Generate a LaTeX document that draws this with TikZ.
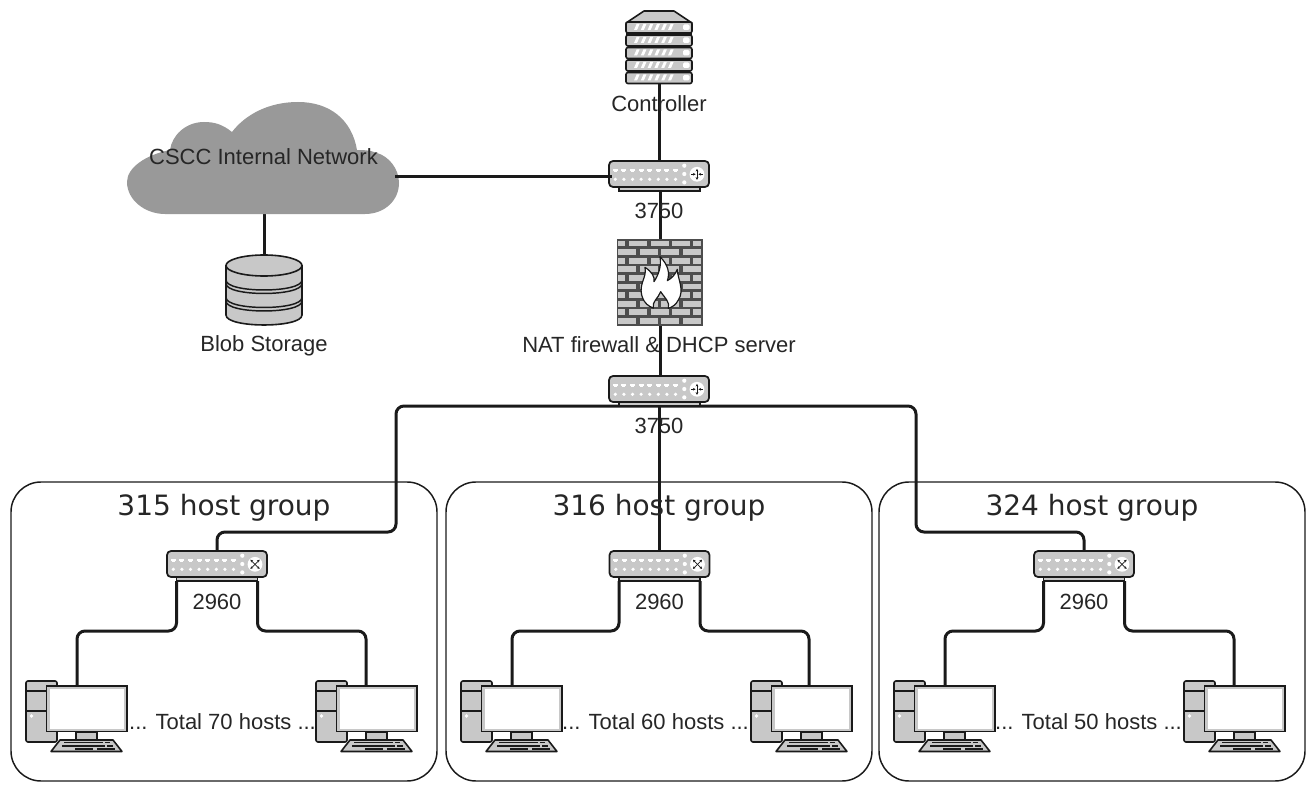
\documentclass[tikz,border=0pt]{standalone}
\usepackage{fontspec}
\setmainfont{Liberation Sans}
\newfontfamily\titlefont{DejaVu Sans}
\usetikzlibrary{arrows.meta,backgrounds}
\definecolor{ink}{HTML}{1A1A1A}
\definecolor{txt}{HTML}{262626}
\definecolor{dev}{HTML}{C8C8C8}
\definecolor{cloudgrey}{HTML}{999999}
\definecolor{brickbg}{HTML}{4D4D4D}
\tikzset{
  conn/.style={draw=ink,line width=2.25pt,rounded corners=6pt,line join=round},
  lbl/.style={text=txt,font=\fontsize{16.5}{18}\selectfont,inner sep=0pt},
  grouptitle/.style={text=txt,font=\titlefont\fontsize{21}{24}\selectfont,inner sep=0pt},
  groupbox/.style={draw=ink,line width=1.1pt,rounded corners=22.5pt},
  anchorbox/.style={inner sep=0pt,outer sep=0pt},
  swbody/.style={fill=dev,draw=ink,line width=1.3pt,rounded corners=3pt,inner sep=0pt,outer sep=0pt,minimum width=75pt,minimum height=19.5pt},
  swbase/.style={fill=dev,draw=ink,line width=0.9pt,inner sep=0pt,outer sep=0pt,minimum width=60.75pt,minimum height=3pt},
  part/.style={fill=dev,draw=ink,line width=1.2pt},
  icon/.style={draw=ink,line width=0.55pt,{Stealth[length=2pt,width=2pt]}-{Stealth[length=2pt,width=2pt]}},
  iconin/.style={draw=ink,line width=0.55pt,-{Stealth[length=2pt,width=2pt]}},
}
% switch front panel drawn around the centre of its body
\newcommand{\panel}[2]{%
  \begin{scope}[shift={(#1)}]
    \foreach \k in {0,...,7}{
      \fill[white] ({-46.2+8.6*\k},-5.3) rectangle ++(5,2.3);
      \fill[white] ({-45.2+8.6*\k},-3) rectangle ++(3,1.3);
      \fill[white] ({-43.7+8.6*\k},5.3) circle[radius=1.8];
    }
    \foreach \d in {-8.3,0,8.4}{\fill[white] (25.3,\d) circle[radius=2.1];}
    \fill[white] (38,0.3) circle[radius=7.4];
    \ifnum#2=1
      \draw[icon] (38,-5.2) -- (38,5.8);
      \draw[iconin] (32,0.3) -- (36.6,0.3);
      \draw[iconin] (44,0.3) -- (39.4,0.3);
    \else
      \draw[icon] (33.4,-4.3) -- (42.6,4.9);
      \draw[icon] (42.6,-4.3) -- (33.4,4.9);
    \fi
  \end{scope}}
% desktop computer; #1 is the horizontal offset
\newcommand{\desktop}[1]{%
  \begin{scope}[xshift=#1*0.75pt]
    \draw[part,rounded corners=1.5pt] (26,681) rectangle (57,742);
    \draw[ink,line width=1.2pt] (26,691) -- (46,691) (26,711) -- (46,711);
    \fill[white] (31.5,716) circle[radius=1.8];
    \draw[part] (76,732) rectangle (97,740);
    \draw[part] (46.5,686) rectangle (127,731.5);
    \fill[white] (49.5,689) rectangle (124,728.5);
    \draw[part,line join=round] (51,751.5) -- (60,740) -- (113,740) -- (122,751.5) -- cycle;
    \draw[ink,line width=1.2pt] (64,742.5) -- (103,742.5) (105,742.5) -- (110,742.5)
       (62,746) -- (105,746) (107,746) -- (113,746)
       (75,749) -- (93,749) (97,749) -- (115,749);
  \end{scope}}
\pgfdeclarelayer{under}
\pgfsetlayers{under,main}
\begin{document}
\begin{tikzpicture}[x=0.75pt,y=-0.75pt]
\useasboundingbox (0,0) rectangle (1315,792);

% ---------- cloud
\fill[cloudgrey] (165,214) -- (365,214)
  .. controls (385,214) and (399,200) .. (399,183)
  .. controls (399,168) and (388,156) .. (377,153)
  .. controls (370,150) and (363,150) .. (357,150)
  .. controls (352,120) and (330,102) .. (298,102)
  .. controls (268,102) and (245,115) .. (232,132)
  .. controls (222,124) and (214,122) .. (204,122)
  .. controls (186,122) and (172,135) .. (170,150)
  .. controls (145,155) and (127,168) .. (127,182)
  .. controls (127,200) and (145,214) .. (165,214) -- cycle;
\node[anchorbox,minimum width=204.75pt,minimum height=84.75pt] (cloud) at (263,157.5) {};
\coordinate (cloudout) at (395,176);
\coordinate (r1in) at (612,176);
\node[lbl] (cloudlbl) at (263.5,156.5) {CSCC Internal Network};

% ---------- blob storage
\node[anchorbox,minimum width=57pt,minimum height=52.5pt] (blob) at (264,290.5) {};
\draw[part,line join=round] (226,265.5) -- (226,315) .. controls (226,328.3) and (302,328.3) .. (302,315) -- (302,265.5) -- cycle;
\foreach \y in {280,297.5}{
  \draw[ink,line width=1.1pt] (226,\y) .. controls (226,\y+13.3) and (302,\y+13.3) .. (302,\y)
    (226,\y+3.5) .. controls (226,\y+16.8) and (302,\y+16.8) .. (302,\y+3.5);
}
\draw[part] (264,265.5) ellipse[x radius=38,y radius=10.5];
\node[lbl] (bloblbl) at (264,346) {Blob Storage};

% ---------- controller
\node[anchorbox,minimum width=49.5pt,minimum height=54.75pt] (ctrl) at (659,46.5) {};
\fill[dev,draw=ink,line width=1.2pt,line join=round] (626,23) -- (644,11) -- (674,11) -- (692,23) -- cycle;
\foreach \y in {22,35,47.5,60,72.5}{
  \draw[part,rounded corners=1.5pt] (626,\y) rectangle (692,\y+11);
  \foreach \k in {0,...,5}{
    \fill[white] ({634+6.8*\k},\y+8) -- ++(3,0) -- ++(2.6,-6) -- ++(-3,0) -- cycle;
  }
  \fill[white,rounded corners=1pt] (683,\y+2.5) rectangle ++(6.5,5.5);
}
\draw[ink,line width=1.8pt] (626,34) -- (692,34);
\node[lbl] (ctrllbl) at (659,104) {Controller};

% ---------- routers
\node[swbase] (r1b) at (659.5,189) {};
\node[swbody] (r1) at (659,174) {};
\panel{659,174}{1}
\node[lbl] (r1lbl) at (659,211) {3750};
\node[swbase] (r2b) at (659.5,404) {};
\node[swbody] (r2) at (659,389) {};
\panel{659,389}{1}
\node[lbl] (r2lbl) at (659,426) {3750};

% ---------- firewall (drawn in 3x crop units)
\node[anchorbox,minimum width=64.5pt,minimum height=64.5pt] (fw) at (660,282.5) {};
\begin{scope}[shift={(590,150)},x=0.25pt,y=-0.25pt]
  \fill[brickbg] (80,268) rectangle (338,527);
  \foreach \r in {0,2,4,6,8}{
    \foreach \a/\b in {82/108,115/173,180/238,245/302,308/335}{
      \fill[dev] (\a+2,{272+25.8*\r}) rectangle (\b-2,{289+25.8*\r});
    }
  }
  \foreach \r in {1,3,5,7,9}{
    \foreach \a/\b in {82/140,148/205,212/270,277/335}{
      \fill[dev] (\a+2,{272+25.8*\r}) rectangle (\b-2,{289+25.8*\r});
    }
  }
  \draw[fill=white,draw=ink,line width=0.9pt,line join=round] (190,474)
    .. controls (160,465) and (145,430) .. (158,395)
    .. controls (163,380) and (168,370) .. (165,352)
    .. controls (185,365) and (195,380) .. (192,395)
    .. controls (205,375) and (215,350) .. (210,320)
    .. controls (235,345) and (240,370) .. (232,392)
    .. controls (245,385) and (255,375) .. (262,358)
    .. controls (262,385) and (285,420) .. (265,450)
    .. controls (258,465) and (245,472) .. (235,475)
    .. controls (240,455) and (225,445) .. (212,425)
    .. controls (205,445) and (185,455) .. (190,474) -- cycle;
\end{scope}
\node[lbl] (fwlbl) at (659,344.5) {NAT firewall \& DHCP server};

% ---------- host groups
\foreach \n/\bx/\sx/\tx/\hx/\hc/\ttl/\da/\db/\la/\lb in {
   1/11/217/224/222.5/70/315/0/290/77/366,
   2/446/659.5/659/655.5/60/316/435/725/512/809,
   3/879/1084/1092/1088.5/50/324/868/1158/945/1234}{
  \node[anchorbox,groupbox,minimum width=319.5pt,minimum height=224.25pt,anchor=north west] (g\n) at (\bx,482) {};
  \node[grouptitle] (g\n t) at (\tx,508) {\ttl\ host group};
  \node[swbase] (s\n b) at (\sx,579) {};
  \node[swbody] (s\n) at (\sx,564) {};
  \panel{\sx,564}{2}
  \node[lbl] (s\n l) at (\sx,601.5) {2960};
  \desktop{\da}
  \desktop{\db}
  \coordinate (p\n a) at (\la,686);
  \coordinate (p\n b) at (\lb,686);
  \coordinate (e\n a) at (\la,631);
  \coordinate (e\n b) at (\lb,631);
  \node[lbl] (h\n) at (\hx,722) {... Total \hc\ hosts ...};
  \begin{pgfonlayer}{under}
    \draw[conn] (s\n b.south west) |- (e\n a) -- (p\n a);
    \draw[conn] (s\n b.south east) |- (e\n b) -- (p\n b);
  \end{pgfonlayer}
}
\coordinate (tl) at (396,532);
\coordinate (tr) at (916,532);

% ---------- connectors
\draw[conn] (cloudout) -- (r1in);
\begin{pgfonlayer}{under}
  \draw[conn] (ctrl.south) -- (r1.north);
  \draw[conn] (cloud.south -| blob.north) -- (blob.north);
  \draw[conn] (r1b.south -| fw.north) -- (fw.north);
  \draw[conn] (fw.south) -- (r2.north -| fw.south);
  \draw[conn] (r2b.south) -| (tl) -| (s1.north);
  \draw[conn] (r2b.south) -- (s2.north);
  \draw[conn] (r2b.south) -| (tr) -| (s3.north);
\end{pgfonlayer}
\end{tikzpicture}
\end{document}
